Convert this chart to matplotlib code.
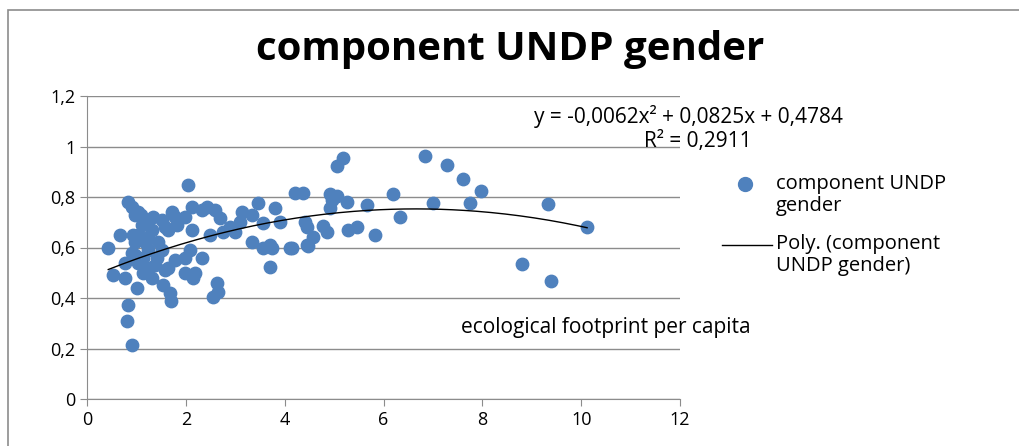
import matplotlib
matplotlib.use("Agg")
import matplotlib.pyplot as plt
from matplotlib.patches import Rectangle
from matplotlib.lines import Line2D
from matplotlib.ticker import FuncFormatter
import numpy as np

plt.rcParams['font.family'] = ['Open Sans', 'DejaVu Sans']

# ecological footprint per capita vs. UNDP gender component
footprint = [0.43, 0.53, 0.67, 0.77, 0.77, 0.83, 0.83, 0.81, 0.91, 0.91, 0.91, 0.93,
             0.97, 0.97, 1.01, 1.03, 1.03, 1.03, 1.11, 1.13, 1.13, 1.17, 1.23, 1.23,
             1.23, 1.32, 1.32, 1.34, 1.38, 1.42, 1.44, 1.52, 1.52, 1.54, 1.58, 1.58,
             1.64, 1.64, 1.68, 1.70, 1.72, 1.78, 1.78, 1.82, 1.98, 1.98, 1.98, 2.04,
             2.08, 2.13, 2.13, 2.15, 2.19, 2.33, 2.33, 2.43, 2.49, 2.55, 2.63, 2.65,
             2.69, 2.75, 2.60, 3.10, 3.14, 3.34, 3.34, 3.46, 3.56, 3.56, 3.70, 3.70,
             3.74, 3.81, 3.90, 4.11, 4.15, 4.21, 4.37, 4.41, 4.45, 4.45, 4.47, 4.57,
             4.78, 4.86, 4.92, 4.96, 4.92, 5.06, 5.18, 5.26, 5.28, 5.46, 5.67, 5.83,
             6.20, 6.34, 6.84, 7.00, 7.29, 7.61, 7.98, 7.75, 8.80, 9.33, 9.39, 10.12,
             2.90, 3.00, 1.20, 1.10, 0.97, 5.00, 5.05]
gender = [0.60, 0.49, 0.65, 0.48, 0.54, 0.78, 0.373, 0.31, 0.214, 0.58, 0.76, 0.65,
          0.73, 0.62, 0.44, 0.65, 0.74, 0.54, 0.69, 0.56, 0.50, 0.62, 0.64, 0.59,
          0.52, 0.67, 0.48, 0.72, 0.53, 0.56, 0.62, 0.71, 0.59, 0.45, 0.68, 0.51,
          0.52, 0.67, 0.42, 0.39, 0.74, 0.72, 0.55, 0.69, 0.72, 0.56, 0.50, 0.848,
          0.59, 0.76, 0.67, 0.48, 0.50, 0.75, 0.56, 0.76, 0.65, 0.404, 0.46, 0.424,
          0.717, 0.66, 0.75, 0.70, 0.74, 0.73, 0.62, 0.776, 0.697, 0.60, 0.61, 0.523,
          0.60, 0.757, 0.70, 0.60, 0.60, 0.816, 0.816, 0.70, 0.68, 0.61, 0.606, 0.64,
          0.685, 0.66, 0.81, 0.79, 0.756, 0.923, 0.955, 0.78, 0.67, 0.68, 0.77, 0.65,
          0.81, 0.72, 0.962, 0.775, 0.927, 0.87, 0.825, 0.777, 0.535, 0.772, 0.467, 0.68,
          0.68, 0.66, 0.70, 0.73, 0.57, 0.80, 0.805]

# polynomial trendline coefficients (from the chart's label)
poly_coef = [-0.0062, 0.0825, 0.4784]
r_squared = 0.2911

BLUE = '#4F81BD'
GRAY = '#8c8c8c'

fig = plt.figure(figsize=(10.2, 4.46), dpi=100)
ax = fig.add_axes([87 / 1020, 47 / 446, 593 / 1020, 303 / 446])

# chart area border
fig.patches.append(Rectangle((8 / 1020, -0.1), 1.2, 1.1 - 10 / 446, transform=fig.transFigure,
                             fill=False, edgecolor=GRAY, linewidth=1.2))

ax.scatter(footprint, gender, s=80, color=BLUE, zorder=3)

xs = np.linspace(min(footprint), max(footprint), 200)
ax.plot(xs, np.polyval(poly_coef, xs), color='black', linewidth=1, zorder=4)

ax.set_xlim(0, 12)
ax.set_ylim(0, 1.2)
ax.set_xticks(range(0, 13, 2))
ax.set_yticks(np.arange(0, 1.21, 0.2))
ax.yaxis.set_major_formatter(FuncFormatter(lambda v, p: f"{v:.1f}".rstrip('0').rstrip('.').replace('.', ',')))
ax.grid(axis='y', color=GRAY, linewidth=1)
ax.set_axisbelow(True)
for side in ['top', 'right']:
    ax.spines[side].set_visible(False)
for side in ['left', 'bottom']:
    ax.spines[side].set_color(GRAY)
ax.tick_params(colors=GRAY, labelcolor='black', labelsize=13, length=5, direction='out')

fig.text(0.5, 1 - 60 / 446, 'component UNDP gender', ha='center', va='baseline',
         fontsize=29, fontweight='bold')
fig.text(688 / 1020, 1 - 117 / 446, 'y = -0,0062x² + 0,0825x + 0,4784', ha='center',
         va='center', fontsize=15)
fig.text(752 / 1020, 1 - 142 / 446, f'R² = {r_squared}'.replace('.', ','), ha='right',
         va='center', fontsize=15)
fig.text(606 / 1020, 1 - 328 / 446, 'ecological footprint per capita', ha='center',
         va='center', fontsize=15)

# legend, Excel style: handle next to the first line of each label
fy = lambda py: 1 - py / 446
fig.add_artist(Line2D([745 / 1020], [fy(184)], transform=fig.transFigure, marker='o',
                      markersize=10, color=BLUE, linestyle='none'))
fig.text(776 / 1020, fy(174), 'component UNDP\ngender', ha='left', va='top',
         fontsize=14.5, linespacing=1.15)
fig.add_artist(Line2D([722 / 1020, 772 / 1020], [fy(245), fy(245)],
                      transform=fig.transFigure, color='black', linewidth=1))
fig.text(776 / 1020, fy(234), 'Poly. (component\nUNDP gender)', ha='left', va='top',
         fontsize=14.5, linespacing=1.15)

fig.savefig('out.png', dpi=100)
